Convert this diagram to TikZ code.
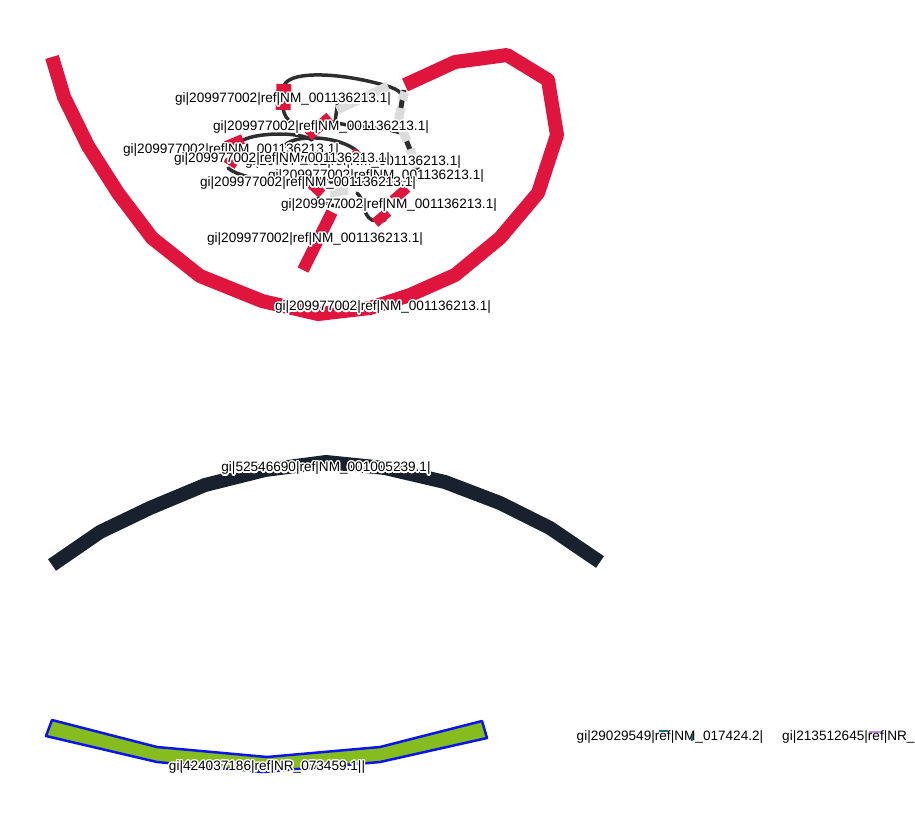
\documentclass[tikz,border=0pt]{standalone}
\usepackage{fontspec}
\setmainfont{Liberation Sans}
\usepackage{contour}
\contourlength{1.4pt}
\contournumber{24}
\definecolor{cRed}{HTML}{DF153D}
\definecolor{cNavy}{HTML}{19212F}
\definecolor{cDark}{HTML}{2E2E2E}
\definecolor{cLight}{HTML}{DCDCDC}
\definecolor{cGreen}{HTML}{86BC1E}
\definecolor{cBlue}{HTML}{0A14F0}
\definecolor{cTeal}{HTML}{1B6E80}
\definecolor{cLav}{HTML}{C48FE0}
\newcommand{\labtxt}[1]{\contour{white}{#1}}
\begin{document}
\begin{tikzpicture}[x=1pt,y=-1pt,
  lab/.style={font=\fontsize{13.6}{16}\selectfont, inner sep=0pt, text=black},
  bigred/.style={draw=cRed, line width=14pt, line join=round},
  redseg/.style={draw=cRed, line width=11pt},
  darkc/.style={draw=cDark, line width=3.5pt, line cap=round},
  lightg/.style={draw=cLight, line width=9pt}]
\useasboundingbox (0,0) rectangle (915,828);
\fill[white] (0,0) rectangle (915,828);

% big red loop
\draw[bigred] (52,57) -- (64,97) -- (88,146) -- (118,193) -- (152,238) -- (200,276) -- (262,301) -- (318,314) -- (370,308) -- (410,295) -- (455,275) -- (500,238) -- (538,193) -- (557,135) -- (548,80) -- (507,55) -- (455,62) -- (405,85);

% tangle: dark curves
\draw[darkc] (284,86) .. controls (288,72) and (330,72) .. (372,82) .. controls (392,87) and (404,90) .. (402,100);
\draw[darkc] (283,108) .. controls (285,122) and (295,126) .. (310,128);
\draw[darkc] (338,100) -- (335,122) .. controls (350,128) and (380,125) .. (407,135);
\draw[draw=cDark, line width=5pt] (404,90) -- (398,124);
\draw[draw=cDark, line width=5pt] (401,127) -- (418,170);
\draw[darkc] (243,140) .. controls (260,132) and (300,132) .. (312,140);
\draw[darkc] (283,148) .. controls (290,133) and (340,135) .. (358,152);
\draw[darkc] (228,168) .. controls (240,178) and (270,182) .. (300,180) -- (340,178);
\draw[darkc] (330,182) -- (415,180);
\draw[darkc] (357,193) .. controls (365,200) and (362,215) .. (372,220) -- (385,220);
\draw[darkc] (318,198) .. controls (328,206) and (340,208) .. (348,205);

% tangle: light grey pieces
\draw[lightg] (388,86) -- (337,110);
\draw[lightg] (405,92) -- (402,100);
\draw[lightg] (401,108) -- (398,122);
\draw[lightg] (402,129) -- (407,141);
\draw[lightg] (410,149) -- (417,168);
\draw[lightg] (330,193) -- (348,190);

% tangle: red pieces
\draw[redseg, line width=15pt] (284,84) -- (283,110);
\draw[redseg] (308,136) -- (330,117);
\draw[redseg, line width=10pt] (226,146) -- (243,139);
\draw[redseg, line width=9pt] (226,158) -- (237,165);
\draw[redseg, line width=9pt] (352,152) -- (364,160);
\draw[redseg, line width=7pt] (300,174) -- (311,176);
\draw[redseg, line width=7pt] (343,172) -- (353,175);
\draw[redseg, line width=10pt] (310,183) -- (322,194);
\draw[redseg, line width=10pt] (393,200) -- (407,188);
\draw[redseg, line width=10pt] (375,223) -- (388,212);
\draw[redseg, line width=12pt] (332,212) -- (303,270);

% navy arc
\draw[draw=cNavy, line width=14pt, line join=round] (52,565) -- (100,532) -- (150,508) -- (205,485) -- (265,470) -- (326,462) -- (385,468) -- (445,482) -- (500,503) -- (550,528) -- (600,562);

% green band
\draw[draw=cBlue, line width=2.5pt, fill=cGreen, line join=round] (52,720) -- (157,747) -- (267,757) -- (380,747) -- (482,721) -- (487,738) -- (380,762) -- (263,772) -- (157,762) -- (46,736) -- cycle;

% tiny marks
\draw[draw=cTeal, line width=2pt] (659,731) -- (668,731);
\draw[draw=cTeal, line width=1.5pt] (692,734) -- (692,741);
\draw[draw=cLav, line width=2pt] (869,732) -- (882,732);

% labels
\node[lab] (l1) at (283,100) {\labtxt{gi|209977002|ref|NM\_001136213.1|}};
\node[lab] (l2) at (321,128) {\labtxt{gi|209977002|ref|NM\_001136213.1|}};
\node[lab] (l3) at (231,151) {\labtxt{gi|209977002|ref|NM\_001136213.1|}};
\node[lab] (l5) at (353,163) {\labtxt{gi|209977002|ref|NM\_001136213.1|}};
\node[lab] (l4) at (282,160) {\labtxt{gi|209977002|ref|NM\_001136213.1|}};
\node[lab] (l6) at (376,177) {\labtxt{gi|209977002|ref|NM\_001136213.1|}};
\node[lab] (l7) at (308,184) {\labtxt{gi|209977002|ref|NM\_001136213.1|}};
\node[lab] (l8) at (389,206) {\labtxt{gi|209977002|ref|NM\_001136213.1|}};
\node[lab] (l9) at (315,240) {\labtxt{gi|209977002|ref|NM\_001136213.1|}};
\node[lab] (l10) at (383,308) {\labtxt{gi|209977002|ref|NM\_001136213.1|}};
\node[lab] (l11) at (326,469) {\labtxt{gi|52546690|ref|NM\_001005239.1|}};
\node[lab] (l12) at (267,768) {\labtxt{gi|424037186|ref|NR\_073459.1||}};
\node[lab] (l13) at (670,737) {gi|29029549|ref|NM\_017424.2|};
\node[lab, anchor=west] (l14) at (782,737) {gi|213512645|ref|NR\_};
\end{tikzpicture}
\end{document}
